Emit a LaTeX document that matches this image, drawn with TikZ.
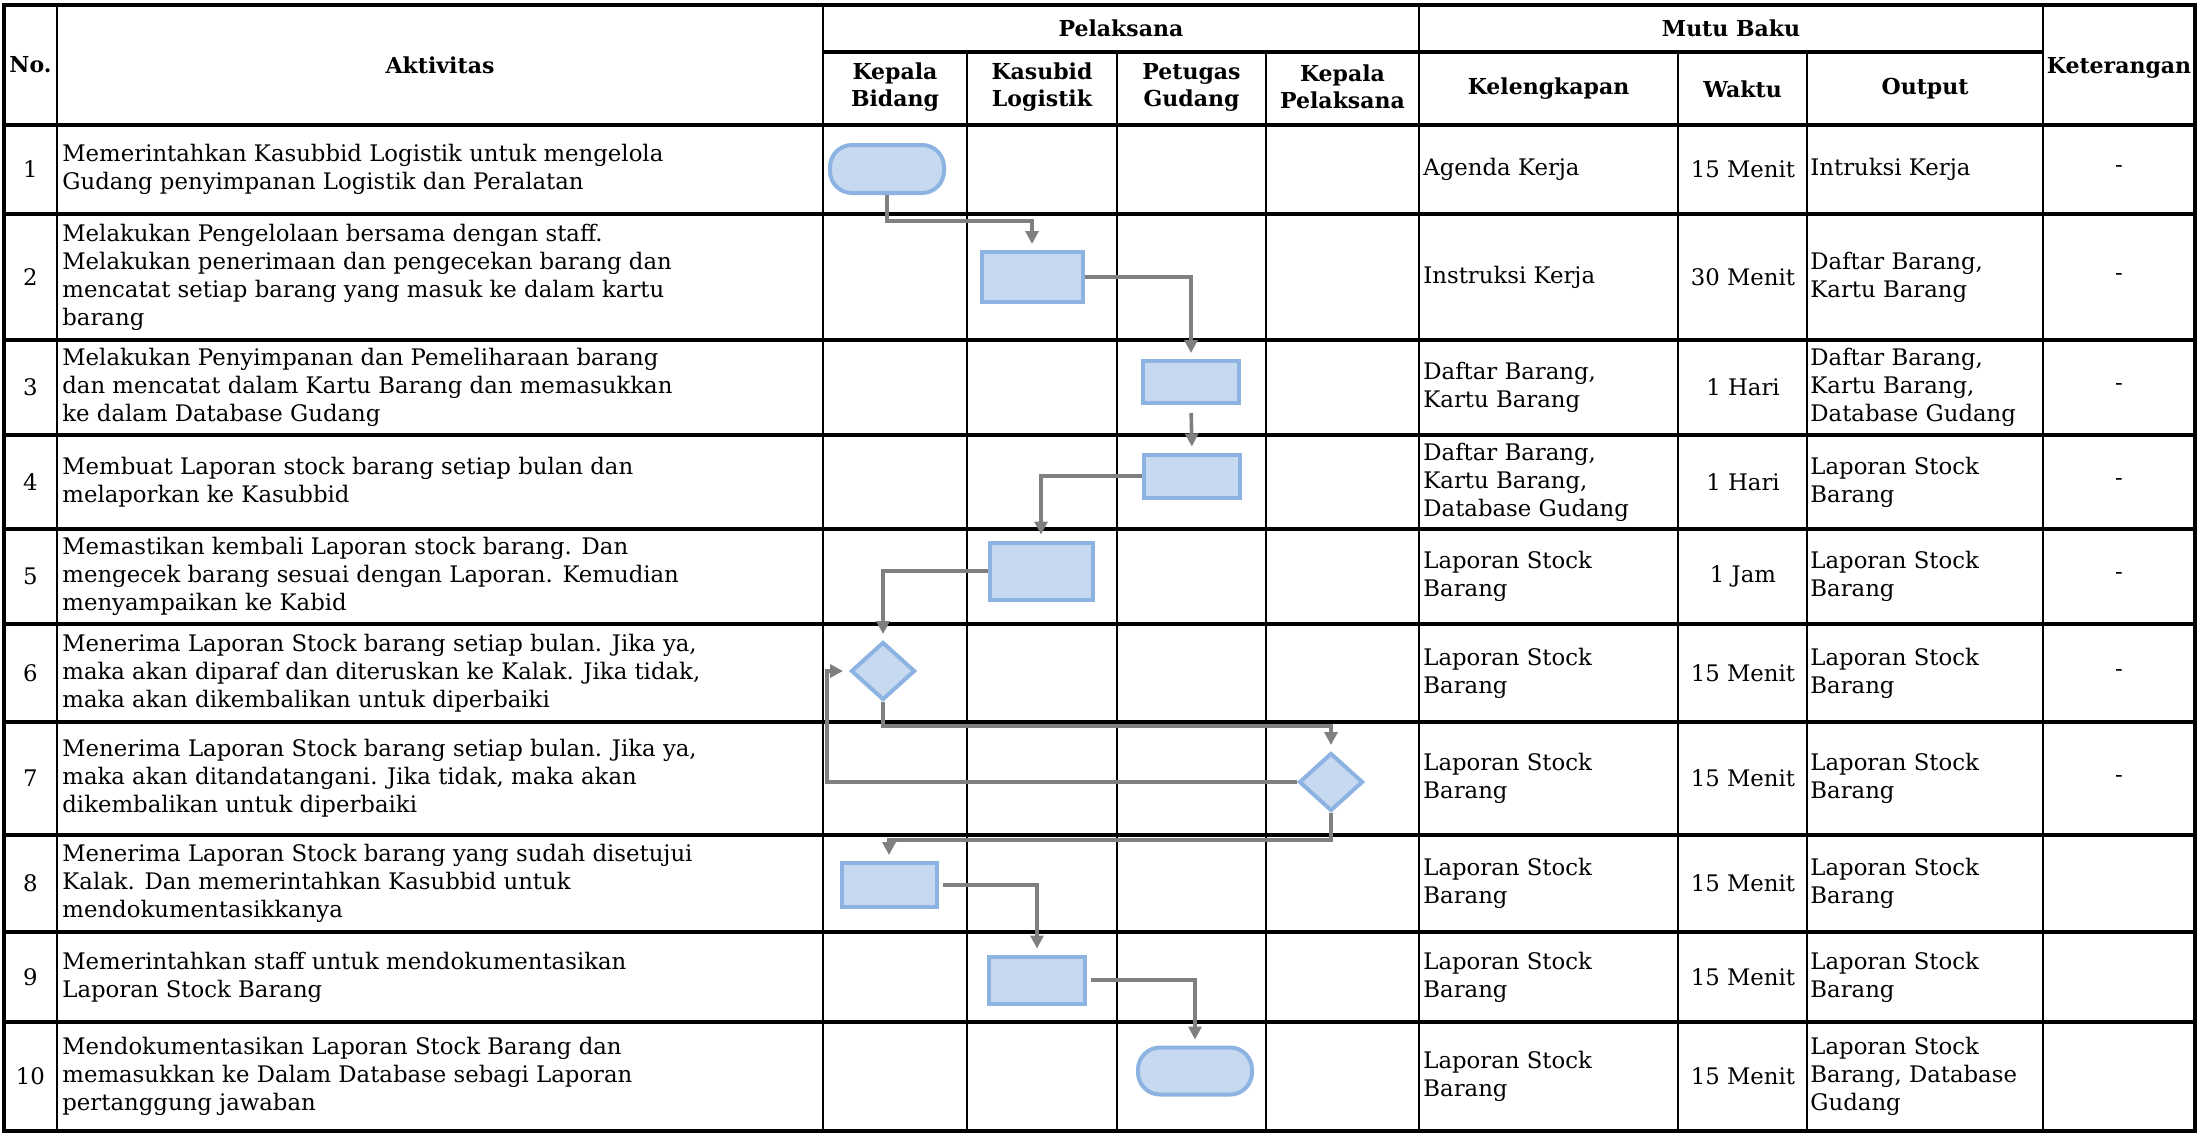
\documentclass[tikz,border=0pt]{standalone}
\usepackage{fontspec}
\setmainfont{DejaVu Serif}
\usepackage{tikz}
\usetikzlibrary{positioning,shapes.geometric,arrows.meta,calc}
\definecolor{ink}     {HTML}{000000}
\definecolor{boxfill} {HTML}{C6D9F1}
\definecolor{boxline} {HTML}{8DB3E2}
\definecolor{flowgray}{HTML}{7F7F7F}
\tikzset{
  % --- table
  vline/.style = {draw=ink, line width=1.3pt},
  hline/.style = {draw=ink, line width=1.9pt},
  hdr/.style   = {font=\bfseries\fontsize{11pt}{13.5pt}\selectfont,
                  align=center, inner sep=0pt},
  txt/.style   = {font=\fontsize{11.4pt}{14pt}\selectfont, align=left,
                  anchor=west, inner sep=0pt},
  ctr/.style   = {txt, anchor=center, align=center},
  % --- flow shapes
  act/.style   = {draw=boxline, fill=boxfill, line width=2pt, inner sep=0pt,
                  minimum width=48pt, minimum height=22pt},
  term/.style  = {act, rounded corners=11pt, minimum width=57pt, minimum height=24pt},
  dec/.style   = {act, diamond, minimum width=32pt, minimum height=29pt},
  % --- edges
  flow/.style  = {-{Triangle[length=6.5pt,width=6.5pt]}, draw=flowgray,
                  line width=1.8pt, shorten >=3pt},
}

\begin{document}
\begin{tikzpicture}[x=0.5pt,y=-0.5pt]
  \useasboundingbox (0,0) rectangle (2198,1135);

  % table lines
  \draw[hline] (4,5) rectangle (2195,1131);
  \foreach \yy in {125,214,340,435,529,624,722,835,932,1022}
    \draw[hline] (4,\yy) -- (2195,\yy);
  \draw[hline] (823,52) -- (2043,52);
  \foreach \xx in {57,823,1419,2043}
    \draw[vline] (\xx,5) -- (\xx,1131);
  \foreach \xx in {967,1117,1266,1678,1807}
    \draw[vline] (\xx,52) -- (\xx,1131);

  % header
  \node[hdr] (hno)   at (30.5,65)  {No.};
  \node[hdr] (hakt)  at (440,65)   {Aktivitas};
  \node[hdr] (hpel)  at (1121,28)  {Pelaksana};
  \node[hdr] (hkb)   at (895,87)   {Kepala\\Bidang};
  \node[hdr] (hks)   at (1042,87)  {Kasubid\\Logistik};
  \node[hdr] (hpg)   at (1191.5,87){Petugas\\Gudang};
  \node[hdr] (hkp)   at (1342.5,87){Kepala\\Pelaksana};
  \node[hdr] (hmutu) at (1731,28)  {Mutu Baku};
  \node[hdr] (hkel)  at (1548.5,89){Kelengkapan};
  \node[hdr] (hwkt)  at (1742.5,89){Waktu};
  \node[hdr] (hout)  at (1925,89)  {Output};
  \node[hdr] (hket)  at (2119,68)  {Keterangan};

  % row 1
  \node[ctr] (no1)  at (30.5,169.5) {1};
  \node[txt] (akt1) at (62,169.5) {Memerintahkan Kasubbid Logistik untuk mengelola\\Gudang penyimpanan Logistik dan Peralatan};
  \node[txt] (kel1) at (1423,169.5) {Agenda Kerja};
  \node[ctr] (wkt1) at (1743,169.5) {15 Menit};
  \node[txt] (out1) at (1810,169.5) {Intruksi Kerja};
  \node[ctr] (ket1) at (2119,169.5) {-};
  % row 2
  \node[ctr] (no2)  at (30.5,277) {2};
  \node[txt] (akt2) at (62,277) {Melakukan Pengelolaan bersama dengan staff.\\Melakukan penerimaan dan pengecekan barang dan\\mencatat setiap barang yang masuk ke dalam kartu\\barang};
  \node[txt] (kel2) at (1423,277) {Instruksi Kerja};
  \node[ctr] (wkt2) at (1743,277) {30 Menit};
  \node[txt] (out2) at (1810,277) {Daftar Barang,\\Kartu Barang};
  \node[ctr] (ket2) at (2119,277) {-};
  % row 3
  \node[ctr] (no3)  at (30.5,387.5) {3};
  \node[txt] (akt3) at (62,387.5) {Melakukan Penyimpanan dan Pemeliharaan barang\\dan mencatat dalam Kartu Barang dan memasukkan\\ke dalam Database Gudang};
  \node[txt] (kel3) at (1423,387.5) {Daftar Barang,\\Kartu Barang};
  \node[ctr] (wkt3) at (1743,387.5) {1 Hari};
  \node[txt] (out3) at (1810,387.5) {Daftar Barang,\\Kartu Barang,\\Database Gudang};
  \node[ctr] (ket3) at (2119,387.5) {-};
  % row 4
  \node[ctr] (no4)  at (30.5,482) {4};
  \node[txt] (akt4) at (62,482) {Membuat Laporan stock barang setiap bulan dan\\melaporkan ke Kasubbid};
  \node[txt] (kel4) at (1423,482) {Daftar Barang,\\Kartu Barang,\\Database Gudang};
  \node[ctr] (wkt4) at (1743,482) {1 Hari};
  \node[txt] (out4) at (1810,482) {Laporan Stock\\Barang};
  \node[ctr] (ket4) at (2119,482) {-};
  % row 5
  \node[ctr] (no5)  at (30.5,576.5) {5};
  \node[txt] (akt5) at (62,576.5) {Memastikan kembali Laporan stock barang. Dan\\mengecek barang sesuai dengan Laporan. Kemudian\\menyampaikan ke Kabid};
  \node[txt] (kel5) at (1423,576.5) {Laporan Stock\\Barang};
  \node[ctr] (wkt5) at (1743,576.5) {1 Jam};
  \node[txt] (out5) at (1810,576.5) {Laporan Stock\\Barang};
  \node[ctr] (ket5) at (2119,576.5) {-};
  % row 6
  \node[ctr] (no6)  at (30.5,673) {6};
  \node[txt] (akt6) at (62,673) {Menerima Laporan Stock barang setiap bulan. Jika ya,\\maka akan diparaf dan diteruskan ke Kalak. Jika tidak,\\maka akan dikembalikan untuk diperbaiki};
  \node[txt] (kel6) at (1423,673) {Laporan Stock\\Barang};
  \node[ctr] (wkt6) at (1743,673) {15 Menit};
  \node[txt] (out6) at (1810,673) {Laporan Stock\\Barang};
  \node[ctr] (ket6) at (2119,673) {-};
  % row 7
  \node[ctr] (no7)  at (30.5,778.5) {7};
  \node[txt] (akt7) at (62,778.5) {Menerima Laporan Stock barang setiap bulan. Jika ya,\\maka akan ditandatangani. Jika tidak, maka akan\\dikembalikan untuk diperbaiki};
  \node[txt] (kel7) at (1423,778.5) {Laporan Stock\\Barang};
  \node[ctr] (wkt7) at (1743,778.5) {15 Menit};
  \node[txt] (out7) at (1810,778.5) {Laporan Stock\\Barang};
  \node[ctr] (ket7) at (2119,778.5) {-};
  % row 8
  \node[ctr] (no8)  at (30.5,883.5) {8};
  \node[txt] (akt8) at (62,883.5) {Menerima Laporan Stock barang yang sudah disetujui\\Kalak. Dan memerintahkan Kasubbid untuk\\mendokumentasikkanya};
  \node[txt] (kel8) at (1423,883.5) {Laporan Stock\\Barang};
  \node[ctr] (wkt8) at (1743,883.5) {15 Menit};
  \node[txt] (out8) at (1810,883.5) {Laporan Stock\\Barang};
  % row 9
  \node[ctr] (no9)  at (30.5,977) {9};
  \node[txt] (akt9) at (62,977) {Memerintahkan staff untuk mendokumentasikan\\Laporan Stock Barang};
  \node[txt] (kel9) at (1423,977) {Laporan Stock\\Barang};
  \node[ctr] (wkt9) at (1743,977) {15 Menit};
  \node[txt] (out9) at (1810,977) {Laporan Stock\\Barang};
  % row 10
  \node[ctr] (no10)  at (30.5,1076.5) {10};
  \node[txt] (akt10) at (62,1076.5) {Mendokumentasikan Laporan Stock Barang dan\\memasukkan ke Dalam Database sebagi Laporan\\pertanggung jawaban};
  \node[txt] (kel10) at (1423,1076.5) {Laporan Stock\\Barang};
  \node[ctr] (wkt10) at (1743,1076.5) {15 Menit};
  \node[txt] (out10) at (1810,1076.5) {Laporan Stock\\Barang, Database\\Gudang};

  % flow shapes
  \node[term] (s1)  at (887,169) {};
  \node[act, minimum width=50.5pt, minimum height=25pt] (s2) at (1032,277) {};
  \node[act, minimum height=21pt] (s3) at (1191,382) {};
  \node[act, minimum height=21.5pt] (s4) at (1192,476) {};
  \node[act, minimum width=51.5pt, minimum height=28.5pt] (s5) at (1041,571) {};
  \node[dec] (d6) at (883,671) {};
  \node[dec] (d7) at (1331,782) {};
  \node[act, minimum width=47.5pt] (s8) at (889,885) {};
  \node[act, minimum height=23.5pt] (s9) at (1037,980) {};
  \node[term, minimum height=23.5pt] (e10) at (1195,1071) {};

  % connectors
  \draw[flow] (s1.south) -- ++(0,26) -| (s2.north);
  \draw[flow] (s2.east) -| (s3.north);
  \draw[flow, shorten <=4pt] (s3.south) -- (s4.north);
  \draw[flow] (s4.west) -| (s5.north);
  \draw[flow] (s5.west) -| (d6.north);
  \draw[flow] (d6.south) -- ++(0,24) -| (d7.north);
  \draw[flow] (d7.west) -- ++(-470,0) |- (d6.west);
  \draw[flow] (d7.south) -- ++(0,27) -| (s8.north);
  \draw[flow, shorten <=2pt] (s8.east) -| (s9.north);
  \draw[flow, shorten <=2pt] (s9.east) -| (e10.north);
\end{tikzpicture}
\end{document}
